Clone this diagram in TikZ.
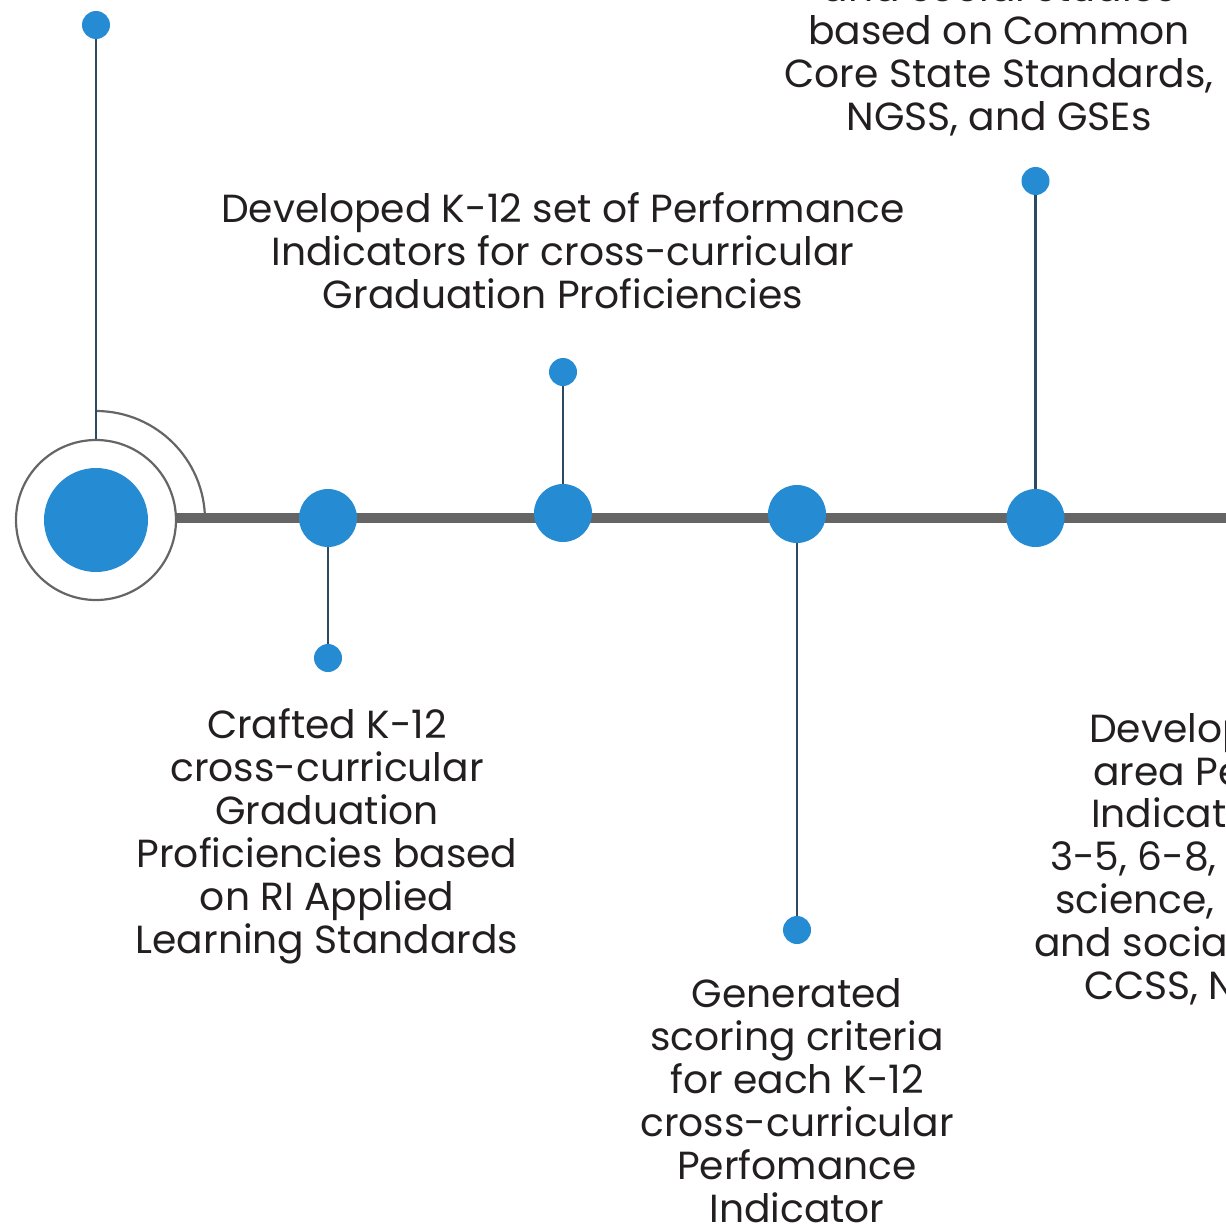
\documentclass[tikz,border=0pt]{standalone}
\usepackage{fontspec}
\setmainfont{Poppins}
\definecolor{dotblue}{HTML}{258BD3}
\definecolor{linegray}{HTML}{656565}
\definecolor{stemcol}{HTML}{2E4A62}
\definecolor{txt}{HTML}{231F20}
\tikzset{
  bigdot/.style={circle,fill=dotblue,minimum size=58pt,inner sep=0pt},
  smalldot/.style={circle,fill=dotblue,minimum size=28pt,inner sep=0pt},
  stem/.style={draw=stemcol,line width=2.2pt},
  mainline/.style={draw=linegray,line width=10pt},
  label/.style={text=txt,align=center,inner sep=0pt,font=\fontsize{39.2}{43}\selectfont},
  rlabel/.style={text=txt,anchor=base west,inner sep=0pt,font=\fontsize{39.2}{43}\selectfont}
}
\begin{document}
\begin{tikzpicture}[x=1pt,y=-1pt]
\useasboundingbox (0,0) rectangle (1226,1226);
\clip (0,0) rectangle (1226,1226);
% main line
\coordinate (lineend) at (1240,518);
\node[circle,draw=linegray,line width=2.2pt,minimum size=160pt,inner sep=0pt] (outer) at (96,520) {};
\draw[mainline] (outer.east |- lineend) -- (lineend);
\node[circle,fill=dotblue,minimum size=104pt,inner sep=0pt] (inner) at (96,520) {};
\draw[draw=linegray,line width=2.2pt] (96,411) arc[start angle=90,end angle=0,radius=109pt] -- (205,513);
% first stem
\node[smalldot] (s1) at (96,25) {};
\draw[stem] (s1) -- (outer.north);
% node 2
\node[bigdot] (n2) at (328,518) {};
\node[smalldot] (s2) at (328,658) {};
\draw[stem] (n2) -- (s2);
% node 3
\node[bigdot] (n3) at (563,513) {};
\node[smalldot] (s3) at (563,372) {};
\draw[stem] (n3) -- (s3);
% node 4
\node[bigdot] (n4) at (797,514) {};
\node[smalldot] (s4) at (797,930) {};
\draw[stem] (n4) -- (s4);
% node 5
\node[bigdot] (n5) at (1035.5,518) {};
\node[smalldot] (s5) at (1035.5,181) {};
\draw[stem] (n5) -- (s5);
% texts
\node[label] (t3) at (563,251) {Developed K-12 set of Performance\\Indicators for cross-curricular\\Graduation Proficiencies};
\node[label] (t5) at (999,54) {and social studies\\based on Common\\Core State Standards,\\NGSS, and GSEs};
\node[label] (t2) at (327,836) {Crafted K-12\\cross-curricular\\Graduation\\Proficiencies based\\on RI Applied\\Learning Standards};
\node[label] (t4) at (797,1101) {Generated\\scoring criteria\\for each K-12\\cross-curricular\\Perfomance\\Indicator};
\node[rlabel] at (1089,742) {Developed};
\node[rlabel] at (1093,785) {area Performance};
\node[rlabel] at (1091,827) {Indicators};
\node[rlabel] at (1050,870) {3-5, 6-8, 9-12};
\node[rlabel] at (1055,913) {science, math};
\node[rlabel] at (1034,956) {and social};
\node[rlabel] at (1084,999) {CCSS, NGSS};
\end{tikzpicture}
\end{document}
